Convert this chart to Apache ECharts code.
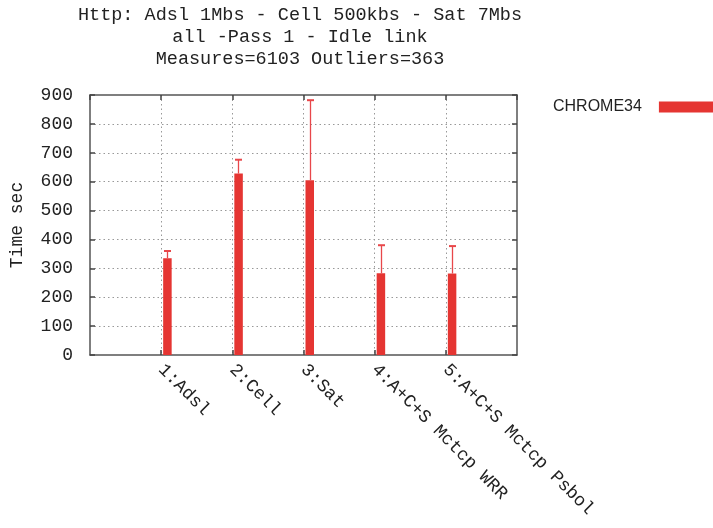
<!DOCTYPE html>
<html>
<head>
<meta charset="utf-8">
<script src="https://cdn.jsdelivr.net/npm/echarts@6/dist/echarts.min.js"></script>
<style>html,body{margin:0;padding:0;background:#fff}#c{width:713px;height:528px}</style>
</head>
<body>
<div id="c"></div>
<script>
const titleLines = ['Http: Adsl 1Mbs - Cell 500kbs - Sat 7Mbs', 'all -Pass 1 - Idle link', 'Measures=6103 Outliers=363'];
const categories = ['1:Adsl', '2:Cell', '3:Sat', '4:A+C+S Mctcp WRR', '5:A+C+S Mctcp Psbol'];
const seriesName = 'CHROME34';
const means = [335, 628, 605, 283, 282];
const upper = [360, 676, 882, 380, 377];
const yTicks = [0, 100, 200, 300, 400, 500, 600, 700, 800, 900];

const MONO = 'Liberation Mono';
const RED = '#e53532';
const barData = means.map((v, i) => [i + 1, v]);
const errData = means.map((v, i) => [i + 1, v, upper[i]]);

const chart = echarts.init(document.getElementById('c'));
const borderLine = { show: true, onZero: false, lineStyle: { color: '#555', width: 1.5 } };
const tick = { show: true, inside: true, length: 5, lineStyle: { color: '#444', width: 1.5 } };
const grid = { type: [1.5, 3], color: '#999', width: 1 };
chart.setOption({
  animation: false,
  title: {
    text: titleLines.join('\n'), left: 300, top: 4, padding: 0, textAlign: 'center',
    textStyle: { fontFamily: MONO, fontSize: 18.5, fontWeight: 'normal', color: '#222', lineHeight: 22 }
  },
  legend: {
    data: [{ name: seriesName, icon: 'rect' }], align: 'right', left: 553, top: 99, padding: 0,
    itemWidth: 56, itemHeight: 11,
    textStyle: { fontFamily: 'Liberation Sans', fontSize: 16, color: '#222', padding: [0, 12, 0, 0] }
  },
  grid: { left: 90, top: 95, right: 196, bottom: 173 },
  xAxis: [{
    type: 'value', min: 0, max: categories.length + 1, interval: 1, position: 'bottom',
    axisLine: borderLine, axisTick: tick,
    splitLine: { show: true, showMinLine: false, showMaxLine: false, lineStyle: grid },
    axisLabel: {
      rotate: -45, margin: 12, fontFamily: MONO, fontSize: 18, color: '#222',
      formatter: v => categories[v - 1] || '', showMinLabel: false, showMaxLabel: false
    }
  }, {
    type: 'value', min: 0, max: categories.length + 1, interval: 1, position: 'top',
    axisLine: borderLine, axisTick: tick,
    splitLine: { show: false }, axisLabel: { show: false }
  }],
  yAxis: [{
    type: 'value', min: yTicks[0], max: yTicks[yTicks.length - 1], interval: 100, position: 'left',
    name: 'Time sec', nameLocation: 'middle', nameGap: 64, nameRotate: 90,
    nameTextStyle: { fontFamily: MONO, fontSize: 18, color: '#222' },
    axisLine: borderLine, axisTick: tick,
    splitLine: { show: true, showMinLine: false, showMaxLine: false, lineStyle: grid },
    axisLabel: { margin: 17, fontFamily: MONO, fontSize: 18, color: '#222' }
  }, {
    type: 'value', min: yTicks[0], max: yTicks[yTicks.length - 1], interval: 100, position: 'right',
    axisLine: borderLine, axisTick: tick,
    splitLine: { show: false }, axisLabel: { show: false }
  }],
  series: [{
    name: seriesName, type: 'custom', data: barData, itemStyle: { color: RED }, z: 3,
    encode: { x: 0, y: 1 },
    renderItem: (params, api) => {
      const p0 = api.coord([api.value(0), 0]);
      const p1 = api.coord([api.value(0), api.value(1)]);
      return { type: 'rect', shape: { x: p0[0] + 2, y: p1[1], width: 8.5, height: p0[1] - p1[1] },
        style: { fill: RED } };
    }
  }, {
    name: 'err', type: 'custom', data: errData, z: 4, encode: { x: 0, y: [1, 2] },
    renderItem: (params, api) => {
      const pb = api.coord([api.value(0), api.value(1)]);
      const pt = api.coord([api.value(0), api.value(2)]);
      const cx = Math.round(pb[0] + 6) + 0.5;
      const st = { stroke: '#e8474a', lineWidth: 1.3 };
      return { type: 'group', children: [
        { type: 'line', shape: { x1: cx, y1: pb[1], x2: cx, y2: pt[1] }, style: st },
        { type: 'line', shape: { x1: cx - 3.5, y1: pt[1], x2: cx + 3.5, y2: pt[1] }, style: { stroke: '#e8474a', lineWidth: 2 } }
      ] };
    }
  }]
});
</script>
</body>
</html>
